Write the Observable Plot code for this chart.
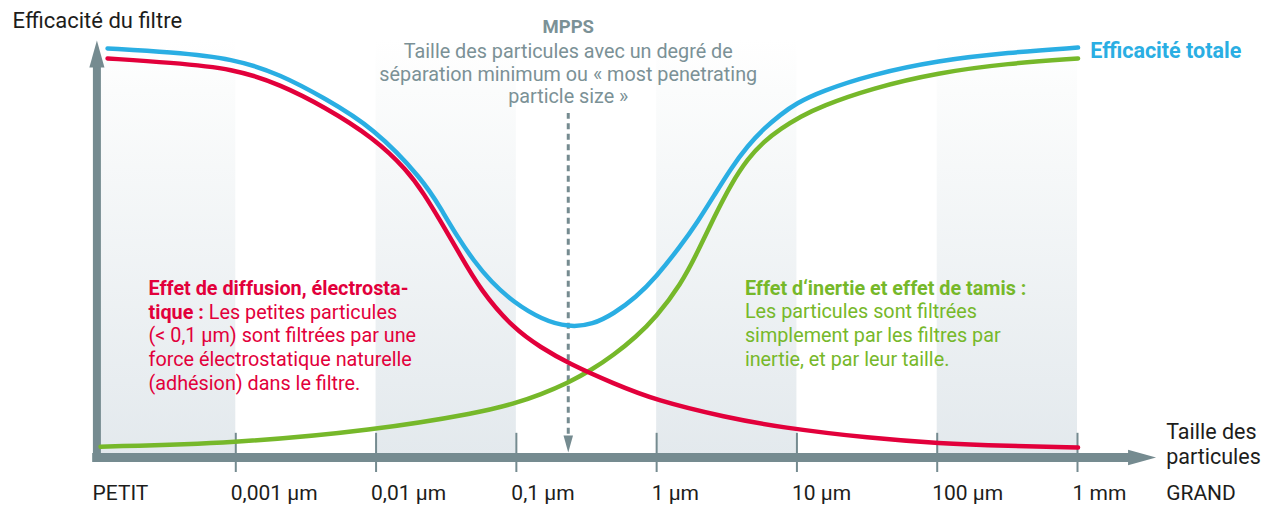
<!DOCTYPE html>
<html><head><meta charset="utf-8">
<script src="https://cdn.jsdelivr.net/npm/d3@7"></script>
<script src="https://cdn.jsdelivr.net/npm/@observablehq/plot@0.6"></script>
<style>body{margin:0;background:#fff}</style>
</head><body><div id="chart"></div>
<script>
// x = particle size as log10(µm); y = filter efficiency (schematic, 0–100)
const decades = [-3, -2, -1, 0, 1, 2, 3];
const tickLabels = ["0,001 µm", "0,01 µm", "0,1 µm", "1 µm", "10 µm", "100 µm", "1 mm"];
const bandStarts = [-4, -2, 0, 2];

// Efficacité totale (blue)
const totalX = [-3.914, -3.465, -3.016, -2.68, -2.374, -2.017, -1.66, -1.539, -1.418, -1.304, -1.183, -1.019, -0.819, -0.626, -0.455, -0.305, -0.148, -0.006, 0.173, 0.294, 0.409, 0.529, 0.65, 0.765, 0.886, 0.993, 1.171, 1.528, 2.006, 2.505, 3.004];
const totalY = [98.1, 97.2, 95.7, 91.8, 86.3, 79.1, 66.4, 59.7, 52.8, 47.2, 42.2, 37.2, 33.1, 31.2, 31.9, 34.5, 38.4, 43.2, 50.8, 56.6, 62.8, 69.3, 74.8, 78.9, 82.3, 84.9, 87.8, 91.8, 95.2, 97.1, 98.3];

// Effet de diffusion, électrostatique (red)
const diffX = [-3.914, -3.465, -3.016, -2.68, -2.374, -2.017, -1.775, -1.66, -1.539, -1.418, -1.254, -1.019, -0.826, -0.626, -0.305, -0.006, 0.494, 0.886, 1.528, 2.006, 2.505, 3.004];
const diffY = [95.7, 94.7, 93.3, 89.4, 84.2, 76.7, 68.8, 63.3, 56.6, 49.6, 40.0, 30.9, 26.4, 22.5, 17.7, 13.7, 9.6, 7.2, 4.6, 3.4, 2.8, 2.4];

// Effet d'inertie et effet de tamis (green)
const inertX = [-3.964, -3.016, -2.017, -1.254, -1.019, -0.826, -0.626, -0.469, -0.305, -0.148, -0.006, 0.173, 0.294, 0.409, 0.529, 0.65, 0.765, 0.886, 1.028, 1.171, 1.528, 2.006, 2.505, 3.004];
const inertY = [2.6, 3.4, 6.5, 10.8, 12.9, 15.1, 18.0, 20.9, 24.6, 28.9, 33.6, 41.5, 49.4, 57.6, 65.5, 71.7, 75.8, 78.9, 81.8, 84.2, 88.5, 92.3, 94.5, 95.7];

const mppsX = -0.63;

const yTitle = "Efficacité du filtre";
const xTitle = "Taille des\nparticules";
const totalLabel = "Efficacité totale";
const mppsTitle = "MPPS";
const mppsText = "Taille des particules avec un degré de\nséparation minimum ou « most penetrating\nparticle size »";
const diffNote = "Effet de diffusion, électrosta-\ntique : Les petites particules\n(< 0,1 µm) sont filtrées par une\nforce électrostatique naturelle\n(adhésion) dans le filtre.";
const inertNote = "Effet d‘inertie et effet de tamis :\nLes particules sont filtrées\nsimplement par les filtres par\ninertie, et par leur taille.";

const C = {total: "#2aaee3", diff: "#e2003b", inert: "#76b82a", axis: "#758b90", mpps: "#7b9196", ink: "#1d1d1b"};
const FONT = "Roboto, 'Noto Sans', sans-serif";

const toRows = (xs, ys) => xs.map((x, i) => ({x, y: ys[i]}));

const arrow = (dir) => ({
  draw(ctx, size) {
    const s = Math.sqrt(size / Math.PI), w = 0.56 * s, l = 2 * s;
    ctx.moveTo(0, 0);
    if (dir === "right") { ctx.lineTo(-l, -w); ctx.lineTo(-l, w); }
    else if (dir === "up") { ctx.lineTo(-w, l); ctx.lineTo(w, l); }
    else { ctx.lineTo(-w, -l); ctx.lineTo(w, -l); }
    ctx.closePath();
  }
});

const chart = Plot.plot({
  width: 1273, height: 506,
  marginLeft: 95, marginRight: 196, marginTop: 40, marginBottom: 49,
  x: {domain: [-4, 3], axis: null},
  y: {domain: [0, 100], axis: null},
  style: {fontFamily: FONT, background: "#fff", overflow: "visible"},
  marks: [
    Plot.rect(bandStarts, {x1: d => d, x2: d => d + 1, y1: 0, y2: 100, fill: "url(#bandGrad)"}),
    // axes
    Plot.ruleX(decades, {y1: -3.6, y2: 5.8, stroke: C.axis, strokeWidth: 2}),
    Plot.ruleY([0], {x1: -4.02, x2: 3.38, stroke: C.axis, strokeWidth: 9}),
    Plot.ruleX([-3.99], {y1: -1.1, y2: 94, stroke: C.axis, strokeWidth: 8}),
    Plot.dot([0], {x: 3.56, y: 0, r: 14, symbol: arrow("right"), fill: C.axis, stroke: null}),
    Plot.dot([0], {x: -3.99, y: 100, r: 13.5, symbol: arrow("up"), fill: C.axis, stroke: null}),
    // MPPS
    Plot.ruleX([mppsX], {y1: 5.6, y2: 82.5, stroke: C.axis, strokeWidth: 3, strokeDasharray: "6,4.5"}),
    Plot.dot([0], {x: mppsX, y: 1.2, r: 8.5, symbol: arrow("down"), fill: C.axis, stroke: null}),
    // curves
    Plot.line(toRows(inertX, inertY), {x: "x", y: "y", stroke: C.inert, strokeWidth: 4.5, curve: "basis"}),
    Plot.line(toRows(diffX, diffY), {x: "x", y: "y", stroke: C.diff, strokeWidth: 4.5, curve: "basis"}),
    Plot.line(toRows(totalX, totalY), {x: "x", y: "y", stroke: C.total, strokeWidth: 4.5, curve: "basis"}),
    // tick labels
    Plot.text(decades, {x: d => d, y: -10.3, text: (d, i) => tickLabels[i], textAnchor: "start", lineAnchor: "bottom", dx: -5, fontSize: 21, fill: C.ink}),
    Plot.text(["PETIT"], {x: -4, y: -10.3, text: d => d, textAnchor: "start", lineAnchor: "bottom", dx: -3, fontSize: 21, fill: C.ink}),
    Plot.text(["GRAND"], {x: 3.632, y: -10.3, text: d => d, textAnchor: "start", lineAnchor: "bottom", fontSize: 21, fill: C.ink}),
    Plot.text([xTitle], {x: 3.632, y: -1.44, text: d => d, textAnchor: "start", lineAnchor: "bottom", lineHeight: 25 / 21.5, fontSize: 21.5, fill: C.ink}),
    Plot.text([yTitle], {x: -4.592, y: 102.9, text: d => d, textAnchor: "start", lineAnchor: "bottom", fontSize: 22, fill: C.ink}),
    Plot.text([totalLabel], {x: 3.09, y: 95.7, text: d => d, textAnchor: "start", lineAnchor: "bottom", fontSize: 21.5, fontWeight: "bold", fill: C.total}),
    Plot.text([mppsTitle], {x: mppsX, y: 101.7, text: d => d, textAnchor: "middle", lineAnchor: "bottom", fontSize: 18.5, fontWeight: "bold", fill: C.mpps}),
    Plot.text([mppsText], {x: mppsX, y: 84.9, text: d => d, textAnchor: "middle", lineAnchor: "bottom", lineHeight: 22.5 / 19.8, fontSize: 19.8, fill: C.mpps}),
    Plot.text([diffNote], {x: -3.622, y: 16.3, text: d => d, textAnchor: "start", lineAnchor: "bottom", lineHeight: 23.6 / 19.8, fontSize: 19.8, fill: C.diff}),
    Plot.text([inertNote], {x: 0.629, y: 22.06, text: d => d, textAnchor: "start", lineAnchor: "bottom", lineHeight: 23.6 / 19.8, fontSize: 19.8, fill: C.inert})
  ]
});

// gradient for the alternating decade bands
const NS = "http://www.w3.org/2000/svg";
const defs = document.createElementNS(NS, "defs");
const grad = document.createElementNS(NS, "linearGradient");
grad.setAttribute("id", "bandGrad");
grad.setAttribute("x1", "0"); grad.setAttribute("y1", "0");
grad.setAttribute("x2", "0"); grad.setAttribute("y2", "1");
[["0", "#ffffff"], ["0.12", "#fbfcfc"], ["1", "#e3e9ed"]].forEach(([o, c]) => {
  const st = document.createElementNS(NS, "stop");
  st.setAttribute("offset", o); st.setAttribute("stop-color", c);
  grad.appendChild(st);
});
defs.appendChild(grad);
chart.insertBefore(defs, chart.firstChild);

// bold lead-ins of the notes
const allTspans = Array.from(chart.querySelectorAll("tspan"));
const findLine = (start) => allTspans.find(t => t.textContent.startsWith(start));
const boldLine = (start) => { const t = findLine(start); if (t) t.setAttribute("font-weight", "bold"); };
const boldPrefix = (prefix) => {
  const t = findLine(prefix);
  if (!t) return;
  const rest = t.textContent.slice(prefix.length);
  t.textContent = "";
  const b = document.createElementNS(NS, "tspan");
  b.setAttribute("font-weight", "bold");
  b.textContent = prefix;
  t.appendChild(b);
  t.appendChild(document.createTextNode(rest));
};
boldLine("Effet de diffusion");
boldLine("Effet d‘inertie");
boldPrefix("tique :");

document.getElementById("chart").appendChild(chart);
</script>
</body></html>
